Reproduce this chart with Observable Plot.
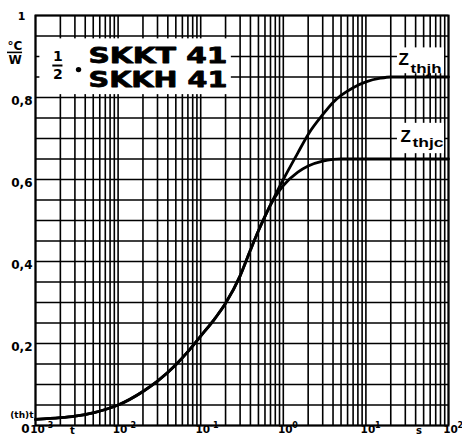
<!DOCTYPE html>
<html><head><meta charset="utf-8">
<script src="https://cdn.jsdelivr.net/npm/d3@7"></script>
<script src="https://cdn.jsdelivr.net/npm/@observablehq/plot@0.6"></script>
<style>body{margin:0;background:#fff} svg{display:block}</style>
</head><body><div id="chart"></div>
<script>
// ---- data ----
const times  = [0.001, 0.002, 0.003, 0.005, 0.007, 0.01, 0.02, 0.03, 0.05, 0.07, 0.1, 0.15, 0.2, 0.3, 0.4, 0.5, 0.6, 0.7, 0.8, 1, 1.5, 2, 3, 4, 5, 7, 10, 15, 20, 30, 50, 100];
const zthjh  = [0.015, 0.019, 0.023, 0.031, 0.039, 0.050, 0.083, 0.108, 0.148, 0.180, 0.218, 0.262, 0.298, 0.365, 0.428, 0.475, 0.510, 0.538, 0.562, 0.600, 0.665, 0.710, 0.758, 0.788, 0.805, 0.824, 0.838, 0.847, 0.850, 0.850, 0.850, 0.850];
const zthjc  = [0.015, 0.019, 0.023, 0.031, 0.039, 0.050, 0.083, 0.108, 0.148, 0.180, 0.218, 0.262, 0.298, 0.365, 0.428, 0.475, 0.510, 0.538, 0.558, 0.585, 0.618, 0.633, 0.645, 0.649, 0.650, 0.650, 0.650, 0.650, 0.650, 0.650, 0.650, 0.650];
const seriesNames = ["thjh", "thjc"];
const xTickValues = [1e-3, 1e-2, 1e-1, 1, 10, 100];
const xTickExponents = ["-3", "-2", "-1", "0", "1", "2"];
const yTickValues = [0.2, 0.4, 0.6, 0.8];
const yTickLabels = ["0,2", "0,4", "0,6", "0,8"];
const yZeroValue = [0];
const yZeroLabel = ["0"];
const yTopValue = [1];
const yTopLabel = ["1"];
const titleLines = ["SKKT 41", "SKKH 41"];
const xDomain = [1e-3, 100];
const yDomain = [0, 1];

// ---- layout (annotation placement) ----
const titleAt = [{t: 0.00438, z: 0.900}, {t: 0.00438, z: 0.843}];
const boxes = [
  {x1: 1.13e-3, x2: 0.235, y1: 0.807, y2: 0.943},
  {x1: 24.1, x2: 89.5, y1: 0.858, y2: 0.921},
  {x1: 24.1, x2: 89.5, y1: 0.663, y2: 0.737}
];
const zLabelAt = [{t: 24.8, z: 0.893}, {t: 26.2, z: 0.705}];
const subLabelAt = [{t: 34.7, z: 0.869}, {t: 36.6, z: 0.689}];

const rows = [];
times.forEach((t, i) => rows.push({t, z: zthjh[i], s: seriesNames[0]}));
times.forEach((t, i) => rows.push({t, z: zthjc[i], s: seriesNames[1]}));

const xGrid = d3.scaleLog().domain(xDomain).ticks();
const yGrid = d3.range(0, 1.0001, 0.05);

const FB = {fontFamily: "DejaVu Sans", fontWeight: "bold", fill: "#000"};
const LB = {fontFamily: "Liberation Sans", fontWeight: "bold", fill: "#000"};

const chart = Plot.plot({
  width: 462, height: 444,
  marginLeft: 35, marginRight: 14, marginTop: 15, marginBottom: 19,
  style: {background: "#fff"},
  x: {type: "log", domain: xDomain, axis: null},
  y: {domain: yDomain, axis: null},
  marks: [
    Plot.gridX(xGrid, {stroke: "#000", strokeOpacity: 1, strokeWidth: 1.6}),
    Plot.gridY(yGrid, {stroke: "#000", strokeOpacity: 1, strokeWidth: 1.6}),
    Plot.frame({stroke: "#000", strokeWidth: 2}),
    Plot.rect(boxes, {x1: "x1", x2: "x2", y1: "y1", y2: "y2", fill: "#fff"}),
    Plot.line(rows, {x: "t", y: "z", z: "s", stroke: "#000", strokeWidth: 2.8, curve: "monotone-x"}),
    // title
    Plot.text(titleLines, {x: (d, i) => titleAt[i].t, y: (d, i) => titleAt[i].z, text: d => d,
      textAnchor: "start", fontSize: 21, stroke: "#000", strokeWidth: 0.8, ...FB}),
    Plot.text(["1", "2"], {x: () => 0.00187, y: (d, i) => [0.899, 0.857][i], text: d => d, fontSize: 14, ...FB}),
    Plot.ruleY([0.878], {x1: 1.62e-3, x2: 2.15e-3, stroke: "#000", strokeWidth: 2}),
    Plot.dot([0], {x: () => 0.00332, y: () => 0.868, r: 2.7, fill: "#000"}),
    // curve labels
    Plot.text(zLabelAt, {x: "t", y: "z", text: () => "Z", textAnchor: "start", fontSize: 17, ...LB}),
    Plot.text(subLabelAt, {x: "t", y: "z", text: (d, i) => seriesNames[i], textAnchor: "start", fontSize: 12, ...LB}),
    // y tick labels
    Plot.text(yTickValues, {x: () => xDomain[0], y: d => d, text: (d, i) => yTickLabels[i], textAnchor: "end", dx: -3, dy: 4, fontSize: 12, ...FB}),
    Plot.text(yZeroValue, {x: () => xDomain[0], y: d => d, text: (d, i) => yZeroLabel[i], textAnchor: "end", dx: -6, dy: 4, fontSize: 12, ...FB}),
    Plot.text(yTopValue, {x: () => xDomain[0], y: d => d, text: (d, i) => yTopLabel[i], textAnchor: "end", dx: -10, dy: 1, fontSize: 11, ...FB}),
    // unit °C / W
    Plot.text(["°C"], {x: () => xDomain[0], y: () => 0.926, text: d => d, dx: -20.5, fontSize: 12, ...FB}),
    Plot.ruleY([0.91], {x1: 4.58e-4, x2: 6.97e-4, stroke: "#000", strokeWidth: 1.6}),
    Plot.text(["W"], {x: () => xDomain[0], y: () => 0.89, text: d => d, dx: -20.5, fontSize: 12, ...FB}),
    Plot.text(["(th)t"], {x: () => xDomain[0], y: () => 0.025, text: d => d, textAnchor: "end", dx: -2, fontSize: 9, ...FB}),
    // x tick labels
    Plot.text(xTickValues, {x: d => d, frameAnchor: "bottom", text: () => "10", dx: 2, dy: 7, fontSize: 10.5, ...FB}),
    Plot.text(xTickValues, {x: d => d, frameAnchor: "bottom", text: (d, i) => xTickExponents[i], textAnchor: "start", dx: 9, dy: 2, fontSize: 8, ...FB}),
    Plot.text(["t", "s"], {x: (d, i) => [0.0028, 44][i], frameAnchor: "bottom", text: d => d, dy: 8, fontSize: 10, ...FB})
  ]
});

const sel = d3.select(chart);
sel.selectAll("text").filter(function () { return titleLines.includes(this.textContent); })
  .attr("textLength", 139).attr("lengthAdjust", "spacingAndGlyphs");
sel.selectAll("text").filter(function () { return seriesNames.includes(this.textContent); })
  .attr("textLength", 31).attr("lengthAdjust", "spacingAndGlyphs");

document.getElementById("chart").appendChild(chart);
</script>
</body></html>
